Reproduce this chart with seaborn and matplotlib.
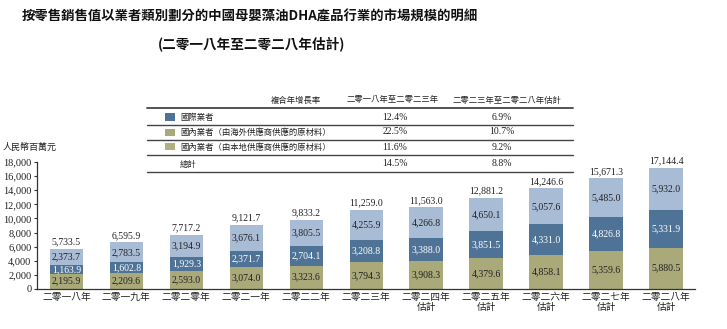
import matplotlib
matplotlib.use("Agg")
import matplotlib.pyplot as plt
from matplotlib.lines import Line2D
from matplotlib.patches import Rectangle
import seaborn as sns
import numpy as np

years = ["二零一八年", "二零一九年", "二零二零年", "二零二一年", "二零二二年", "二零二三年",
         "二零二四年\n估計", "二零二五年\n估計", "二零二六年\n估計", "二零二七年\n估計", "二零二八年\n估計"]
local_supply = [2195.9, 2209.6, 2593.0, 3074.0, 3323.6, 3794.3, 3908.3, 4379.6, 4858.1, 5359.6, 5880.5]
overseas_supply = [1163.9, 1602.8, 1929.3, 2371.7, 2704.1, 3208.8, 3388.0, 3851.5, 4331.0, 4826.8, 5331.9]
international = [2373.7, 2783.5, 3194.9, 3676.1, 3805.5, 4255.9, 4266.8, 4650.1, 5057.6, 5485.0, 5932.0]
totals = [5733.5, 6595.9, 7717.2, 9121.7, 9833.2, 11259.0, 11563.0, 12881.2, 14246.6, 15671.3, 17144.4]

cagr_header = ["複合年增長率", "二零一八年至二零二三年", "二零二三年至二零二八年估計"]
cagr_rows = ["國際業者", "國內業者（由海外供應商供應的原材料）", "國內業者（由本地供應商供應的原材料）", "總計"]
cagr_1823 = ["12.4%", "22.5%", "11.6%", "14.5%"]
cagr_2328 = ["6.9%", "10.7%", "9.2%", "8.8%"]

title1 = "按零售銷售值以業者類別劃分的中國母嬰藻油DHA產品行業的市場規模的明細"
title2 = "(二零一八年至二零二八年估計)"
ylabel = "人民幣百萬元"

C_LIGHT = "#a9bcd6"
C_BLUE = "#4e7397"
C_OLIVE = "#a9a979"
C_OLIVE2 = "#b0b07f"
C_TEXT = "#222222"

sns.set_theme(style="white")
plt.rcParams["font.family"] = ["Noto Sans CJK TC", "DejaVu Sans"]
CJK = ["Noto Sans CJK TC", "DejaVu Sans"]
SERIF = ["Liberation Serif", "DejaVu Serif"]

W, H = 727, 329
fig = plt.figure(figsize=(W / 100, H / 100), dpi=100)

def fx(x):
    return x / W

def fy(y):
    return 1 - y / H

ax_left, ax_right, ax_bottom, ax_top = 37, 695, 289, 162
ax = fig.add_axes([fx(ax_left), fy(ax_bottom), (ax_right - ax_left) / W, (ax_bottom - ax_top) / H])

cum_two = [a + b for a, b in zip(local_supply, overseas_supply)]
bw = 0.56
sns.barplot(x=years, y=totals, color=C_LIGHT, saturation=1, width=bw, ax=ax, linewidth=0)
sns.barplot(x=years, y=cum_two, color=C_BLUE, saturation=1, width=bw, ax=ax, linewidth=0)
sns.barplot(x=years, y=local_supply, color=C_OLIVE, saturation=1, width=bw, ax=ax, linewidth=0)

ax.set_ylim(0, 18000)
ax.set_xlim(-0.49, 10.48)
ax.set_yticks(np.arange(0, 18001, 2000))
ax.set_yticklabels([f"{v:,}" for v in range(0, 18001, 2000)], fontfamily=SERIF, fontsize=7.5, color=C_TEXT)
ax.set_xticks(range(len(years)))
ax.set_xticklabels(years, fontfamily=CJK, fontsize=7, color=C_TEXT, linespacing=1.05)
ax.tick_params(axis="x", length=0, pad=2)
ax.tick_params(axis="y", length=2, width=0.8, pad=2, left=True, color="#333333")
ax.set_xlabel("")
ax.set_ylabel("")
for s in ["top", "right"]:
    ax.spines[s].set_visible(False)
for s in ["left", "bottom"]:
    ax.spines[s].set_color("#333333")
    ax.spines[s].set_linewidth(0.9)

for i in range(len(years)):
    lo = local_supply[i]
    ov = overseas_supply[i]
    it = international[i]
    ax.text(i, lo / 2, f"{lo:,.1f}", ha="center", va="center", fontsize=7, fontfamily=SERIF, color=C_TEXT)
    ax.text(i, lo + ov / 2, f"{ov:,.1f}", ha="center", va="center", fontsize=7, fontfamily=SERIF, color="white")
    ax.text(i, lo + ov + it / 2, f"{it:,.1f}", ha="center", va="center", fontsize=7, fontfamily=SERIF, color=C_TEXT)
    ax.text(i, totals[i] + 350, f"{totals[i]:,.1f}", ha="center", va="bottom", fontsize=7, fontfamily=SERIF, color=C_TEXT)

# titles
fig.text(fx(250), fy(17), title1, ha="center", va="center", fontsize=9.6, fontweight="bold", fontfamily=CJK, color="#111111")
fig.text(fx(252), fy(45), title2, ha="center", va="center", fontsize=9.8, fontweight="bold", fontfamily=CJK, color="#111111")
fig.text(fx(3), fy(147), ylabel, ha="left", va="center", fontsize=6.5, fontstyle="italic", fontfamily=CJK, color=C_TEXT)

# CAGR table
tx0, tx1 = 147, 573
for yy, lw in [(108, 1.3), (125, 1.0), (140, 1.0), (155, 1.0), (172, 1.0)]:
    fig.add_artist(Line2D([fx(tx0), fx(tx1)], [fy(yy), fy(yy)], color="#444444", lw=lw))
fig.text(fx(296), fy(100), cagr_header[0], ha="center", va="center", fontsize=6, fontfamily=CJK, color=C_TEXT)
fig.text(fx(393), fy(100), cagr_header[1], ha="center", va="center", fontsize=6, fontfamily=CJK, color=C_TEXT)
fig.text(fx(507), fy(100), cagr_header[2], ha="center", va="center", fontsize=6, fontfamily=CJK, color=C_TEXT)

row_y = [117, 132, 147, 164]
sw_colors = [C_BLUE, C_OLIVE, C_OLIVE2, None]
for k in range(4):
    yy = row_y[k]
    if sw_colors[k] is not None:
        fig.add_artist(Rectangle((fx(165), fy(yy + 3.5)), 10 / W, 7 / H, transform=fig.transFigure,
                                 facecolor=sw_colors[k], edgecolor="none"))
    fig.text(fx(180), fy(yy), cagr_rows[k], ha="left", va="center", fontsize=6, fontfamily=CJK, color=C_TEXT)
    fig.text(fx(395), fy(yy), cagr_1823[k], ha="center", va="center", fontsize=7, fontfamily=SERIF, color=C_TEXT)
    fig.text(fx(502), fy(yy), cagr_2328[k], ha="center", va="center", fontsize=7, fontfamily=SERIF, color=C_TEXT)

fig.savefig("out.png", dpi=100)
